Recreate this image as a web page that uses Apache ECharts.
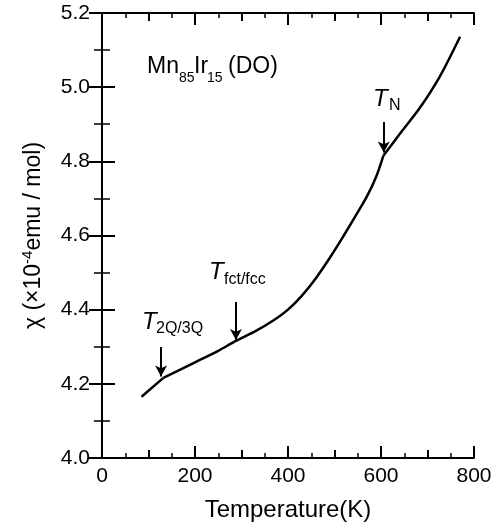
<!DOCTYPE html>
<html><head><meta charset="utf-8">
<script src="https://cdn.jsdelivr.net/npm/echarts@6/dist/echarts.min.js"></script>
<style>html,body{margin:0;padding:0;background:#fff}#c{width:500px;height:527px}</style>
</head><body><div id="c"></div>
<script>
// Curve pieces (between the two sharp kinks at T2Q/3Q and TN)
const tempsLow  = [85,132];
const chiLow    = [4.165,4.216];
const tempsMid  = [132,200,250,288,330,370,400,430,460,490,520,545,570,590,605];
const chiMid    = [4.216,4.258,4.289,4.316,4.342,4.372,4.400,4.438,4.485,4.540,4.600,4.652,4.706,4.760,4.815];
const tempsHigh = [605,641,684,727,770];
const chiHigh   = [4.815,4.875,4.945,5.030,5.136];
const xTicks = [0,200,400,600,800];
const yTicks = [4.0,4.2,4.4,4.6,4.8,5.0,5.2];
// arrow annotations: [T, chiStart, chiTip]
const arrows = [[127,4.299,4.220],[288,4.421,4.318],[606,4.906,4.824]];

const FONT = "'Liberation Sans', Arial, sans-serif";
const chart = echarts.init(document.getElementById('c'));
const axisLine = {show:true, lineStyle:{color:'#000', width:2}};
const tick = (len)=>({show:true, inside:true, length:len, lineStyle:{color:'#000', width:2}});
const minor = (n,len)=>({show:true, splitNumber:n, length:len, lineStyle:{color:'#000', width:1.5}});
const xMin = xTicks[0], xMax = xTicks[xTicks.length-1];
const xAx = {type:'value', min:xMin, max:xMax, interval:200,
  axisLine, axisTick:tick(12), minorTick:minor(4,5), splitLine:{show:false}};
const xMidAx = {type:'value', min:xMin, max:xMax, interval:100,
  axisLine:{show:false}, axisTick:tick(8), axisLabel:{show:false}, splitLine:{show:false}};
const yAx = {type:'value', min:yTicks[0], max:yTicks[yTicks.length-1], interval:0.2,
  axisLine, axisTick:tick(13), minorTick:minor(2,8), splitLine:{show:false}};

const lineSeries = (ts, cs, sm) => ({
  type:'line', xAxisIndex:0, yAxisIndex:0, data:ts.map((t,i)=>[t,cs[i]]), showSymbol:false,
  smooth:sm, lineStyle:{color:'#000', width:2.5}});

const option = {
  animation:false,
  grid:{left:102, right:26, top:13, bottom:69},
  xAxis:[
    Object.assign({}, xAx, {position:'bottom',
      axisLabel:{show:true, color:'#000', fontSize:21, fontFamily:FONT, margin:8},
      name:'Temperature(K)', nameLocation:'middle', nameGap:40,
      nameTextStyle:{color:'#000', fontSize:24, fontFamily:FONT}}),
    Object.assign({}, xAx, {position:'top', axisLabel:{show:false}}),
    Object.assign({}, xMidAx, {position:'bottom'}),
    Object.assign({}, xMidAx, {position:'top'})
  ],
  yAxis:[
    Object.assign({}, yAx, {position:'left',
      axisLabel:{show:true, color:'#000', fontSize:21, fontFamily:FONT, margin:12,
        formatter:v=>v.toFixed(1)},
      name:'{a|χ (×10}{s|-4}{a|emu / mol)}', nameLocation:'middle', nameGap:54, nameRotate:90,
      nameTextStyle:{color:'#000', fontFamily:FONT,
        rich:{a:{fontSize:23, fontFamily:FONT, color:'#000', lineHeight:28},
              s:{fontSize:15, fontFamily:FONT, color:'#000', verticalAlign:'top', lineHeight:28, padding:[0,0,10,0]}}}}),
    Object.assign({}, yAx, {position:'right', axisLabel:{show:false}})
  ],
  series:[
    lineSeries(tempsLow, chiLow, false),
    Object.assign(lineSeries(tempsMid, chiMid, 0.3), {
      markLine:{silent:true, symbol:['none','arrow'], symbolSize:[9,11],
        lineStyle:{color:'#000', width:2, type:'solid'}, label:{show:false},
        data: arrows.map(a=>[{coord:[a[0],a[1]]},{coord:[a[0],a[2]]}])}}),
    lineSeries(tempsHigh, chiHigh, 0.3)
  ]
};
chart.setOption(option);

function txt(x,y,s,size,italic){
  return {type:'text', x:x, y:y, silent:true,
    style:{text:s, fill:'#000', font:(italic?'italic ':'')+size+'px '+FONT, verticalAlign:'middle', align:'left'}};
}
chart.setOption({graphic:[
  txt(147,67,'Mn',23), txt(179,78,'85',14), txt(194,67,'Ir',23), txt(207,78,'15',14), txt(228,67,'(DO)',23),
  txt(373,99,'T',24,true), txt(389,106,'N',16),
  txt(142,322,'T',24,true), txt(156,329,'2Q/3Q',16),
  txt(209,272,'T',24,true), txt(224,280,'fct/fcc',16)
]});
</script></body></html>
